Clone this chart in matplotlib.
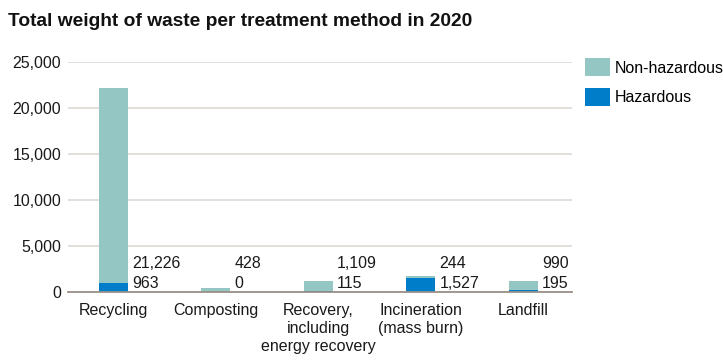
import numpy as np
import matplotlib.pyplot as plt

plt.rcParams['font.family'] = ['Liberation Sans', 'DejaVu Sans']

# data
categories = ["Recycling", "Composting", "Recovery,\nincluding\nenergy recovery",
              "Incineration\n(mass burn)", "Landfill"]
non_hazardous = [21226, 428, 1109, 244, 990]
hazardous = [963, 0, 115, 1527, 195]
yticks = [0, 5000, 10000, 15000, 20000, 25000]

c_non = '#94c7c4'
c_haz = '#007dc8'
txt = '#1a1a1a'

fig = plt.figure(figsize=(7.23, 3.61), dpi=100)
ax = fig.add_axes([0.094, 0.191, 0.697, 0.637])

x = np.arange(len(categories))
w = 0.283
b_haz = ax.bar(x, hazardous, w, color=c_haz, label='Hazardous', zorder=3)
b_non = ax.bar(x, non_hazardous, w, bottom=hazardous, color=c_non,
               label='Non-hazardous', zorder=3)

# value labels sit at the foot of each bar, to its right
for xi, nh, hz in zip(x, non_hazardous, hazardous):
    ax.annotate(f"{nh:,}", xy=(xi + w / 2, 0), xytext=(4, 29),
                textcoords='offset pixels', ha='left', va='center',
                fontsize=11.5, color=txt)
    ax.annotate(f"{hz:,}", xy=(xi + w / 2, 0), xytext=(4, 9),
                textcoords='offset pixels', ha='left', va='center',
                fontsize=11.5, color=txt)

ax.set_xlim(-0.444, 4.473)
ax.set_ylim(0, 25000)
ax.set_yticks(yticks)
ax.set_yticklabels([f"{v:,}" for v in yticks], fontsize=11.5, color=txt)
ax.set_xticks(x)
ax.set_xticklabels(categories, fontsize=11.5, color=txt, linespacing=1.25)
ax.tick_params(axis='both', length=0)
ax.tick_params(axis='y', pad=5)
ax.tick_params(axis='x', pad=8)

ax.grid(axis='y', color='#e0dcd8', linewidth=1.3, zorder=0)
for s in ['top', 'right', 'left']:
    ax.spines[s].set_visible(False)
ax.spines['bottom'].set_color('#9a9088')
ax.spines['bottom'].set_linewidth(1.3)
ax.spines['bottom'].set_zorder(4)

fig.legend(handles=[b_non, b_haz], labels=['Non-hazardous', 'Hazardous'],
           loc='upper left', bbox_to_anchor=(585 / 723, 1 - 58 / 361),
           frameon=False, fontsize=11.5, handlelength=1.55, handleheight=1.4,
           handletextpad=0.3, labelspacing=0.7, borderaxespad=0, borderpad=0)

fig.text(8 / 723, 1 - 21 / 361, "Total weight of waste per treatment method in 2020",
         fontsize=13.8, fontweight='bold', va='center', ha='left', color='#111111')

fig.savefig("out.png", dpi=100)
